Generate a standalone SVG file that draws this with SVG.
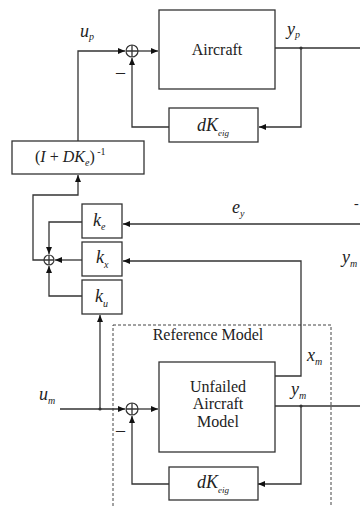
<svg xmlns="http://www.w3.org/2000/svg" width="360" height="507" viewBox="0 0 360 507">
<style>
.box{fill:#fff;stroke:#333;stroke-width:1.3}
.ln{fill:none;stroke:#333;stroke-width:1.3}
.dash{fill:none;stroke:#444;stroke-width:1;stroke-dasharray:3 2}
.t{font-family:"Liberation Serif","Times New Roman",serif;fill:#222}
.it{font-family:"Liberation Serif","Times New Roman",serif;font-style:italic;fill:#222}
.sum{fill:#fff;stroke:#333;stroke-width:1.2}
</style>
<defs>
<marker id="ar" markerWidth="8" markerHeight="8" refX="7" refY="4" orient="auto" markerUnits="userSpaceOnUse">
<path d="M0,1 L7,4 L0,7 Z" fill="#111"/>
</marker>
</defs>
<rect width="360" height="507" fill="#fff"/>

<rect class="dash" x="113" y="325" width="218" height="190"/>
<text class="t" x="208" y="340" font-size="16" text-anchor="middle">Reference Model</text>

<g id="connectors">
<path class="ln" d="M78,141 V51 H125" marker-end="url(#ar)"/>
<path class="ln" d="M138,51 H158" marker-end="url(#ar)"/>
<path class="ln" d="M275,48 H360"/>
<path class="ln" d="M301,48 V127 H259" marker-end="url(#ar)"/>
<path class="ln" d="M169,127 H132 V58" marker-end="url(#ar)"/>
<path class="ln" d="M44,260 H33 V195 H78 V175" marker-end="url(#ar)"/>
<path class="ln" d="M82,222 H49 V254" marker-end="url(#ar)"/>
<path class="ln" d="M82,260 H55" marker-end="url(#ar)"/>
<path class="ln" d="M82,296 H49 V266" marker-end="url(#ar)"/>
<path class="ln" d="M360,224 H123" marker-end="url(#ar)"/>
<path class="ln" d="M275,376 H301 V261 H123" marker-end="url(#ar)"/>
<path class="ln" d="M100,409 V315" marker-end="url(#ar)"/>
<path class="ln" d="M60,409 H125" marker-end="url(#ar)"/>
<path class="ln" d="M138,409 H158" marker-end="url(#ar)"/>
<path class="ln" d="M275,406 H360"/>
<path class="ln" d="M301,406 V484 H258" marker-end="url(#ar)"/>
<path class="ln" d="M169,484 H132 V416" marker-end="url(#ar)"/>
<circle cx="301" cy="48" r="1.6" fill="#333"/>
<circle cx="301" cy="406" r="1.6" fill="#333"/>
<circle cx="100" cy="409" r="1.6" fill="#333"/>
</g>

<g id="sum1">
<circle class="sum" cx="132" cy="51" r="6"/>
<path class="ln" d="M126,51 H138 M132,45 V57" stroke-width="1"/>
<text class="t" x="116" y="78" font-size="18">–</text>
</g>
<g id="aircraft">
<rect class="box" x="159" y="10" width="116" height="79"/>
<text class="t" x="217" y="55" font-size="16" text-anchor="middle">Aircraft</text>
</g>
<g id="dkeig1">
<rect class="box" x="169" y="108" width="89" height="34"/>
<text class="it" x="197" y="131" font-size="18">dK<tspan font-size="9" dy="5">eig</tspan></text>
</g>
<g id="inv">
<rect class="box" x="12" y="141" width="132" height="33"/>
<text class="t" x="35" y="162" font-size="16">(<tspan font-style="italic">I</tspan> + <tspan font-style="italic">DK</tspan><tspan font-style="italic" font-size="10" dy="4">e</tspan><tspan dy="-4">)</tspan><tspan font-size="10" dy="-7"> -1</tspan></text>
</g>
<g id="sum2">
<circle class="sum" cx="49" cy="260" r="5"/>
<path class="ln" d="M44,260 H54 M49,255 V265" stroke-width="1"/>
</g>
<g id="ke">
<rect class="box" x="82" y="204" width="40" height="34"/>
<text class="it" x="93" y="226" font-size="18">k<tspan font-size="10" dy="4">e</tspan></text>
</g>
<g id="kx">
<rect class="box" x="82" y="242" width="40" height="34"/>
<text class="it" x="96" y="263" font-size="18">k<tspan font-size="10" dy="5">x</tspan></text>
</g>
<g id="ku">
<rect class="box" x="82" y="280" width="40" height="34"/>
<text class="it" x="95" y="302" font-size="18">k<tspan font-size="10" dy="5">u</tspan></text>
</g>
<g id="sum3">
<circle class="sum" cx="132" cy="409" r="6"/>
<path class="ln" d="M126,409 H138 M132,403 V415" stroke-width="1"/>
<text class="t" x="116" y="436" font-size="18">–</text>
</g>
<g id="unfailed">
<rect class="box" x="159" y="362" width="116" height="90"/>
<text class="t" x="218" y="392" font-size="16" text-anchor="middle">Unfailed</text>
<text class="t" x="218" y="409" font-size="16" text-anchor="middle">Aircraft</text>
<text class="t" x="218" y="427" font-size="16" text-anchor="middle">Model</text>
</g>
<g id="dkeig2">
<rect class="box" x="169" y="467" width="89" height="33"/>
<text class="it" x="197" y="488" font-size="18">dK<tspan font-size="9" dy="5">eig</tspan></text>
</g>

<g id="labels">
<text class="it" x="80" y="37" font-size="18">u<tspan font-size="10" dy="3">p</tspan></text>
<text class="it" x="287" y="35" font-size="18">y<tspan font-size="10" dy="3">p</tspan></text>
<text class="it" x="232" y="213" font-size="18">e<tspan font-size="10" dy="4">y</tspan></text>
<text class="t" x="354" y="208" font-size="14">-</text>
<text class="it" x="342" y="263" font-size="18">y<tspan font-size="10" dy="4">m</tspan></text>
<text class="it" x="307" y="361" font-size="18">x<tspan font-size="10" dy="4">m</tspan></text>
<text class="it" x="291" y="395" font-size="18">y<tspan font-size="10" dy="4">m</tspan></text>
<text class="it" x="39" y="400" font-size="18">u<tspan font-size="10" dy="4">m</tspan></text>
</g>
</svg>
